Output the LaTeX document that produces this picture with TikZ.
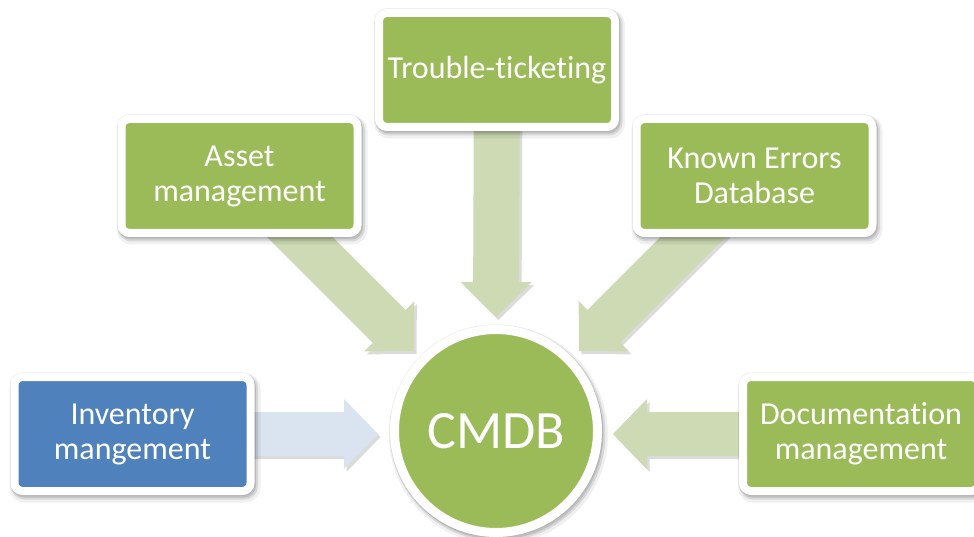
\documentclass[tikz,border=0pt]{standalone}
\usepackage{fontspec}
\setmainfont{Carlito}[Ligatures=NoCommon]
\usetikzlibrary{calc,shadows,backgrounds}
\definecolor{boxgreen}{HTML}{9BBB59}
\definecolor{boxblue}{HTML}{4F81BD}
\definecolor{arrgreen}{HTML}{CDDAB4}
\definecolor{arrblue}{HTML}{DAE3F0}
\tikzset{
  rimshadow/.style={
    preaction={draw=black, draw opacity=0.06, line width=#1+7pt,
      transform canvas={shift={(2.5pt,-4pt)}}},
    preaction={draw=black, draw opacity=0.10, line width=#1+3pt,
      transform canvas={shift={(2pt,-3pt)}}},
    preaction={draw=black, draw opacity=0.12, line width=#1,
      transform canvas={shift={(1.5pt,-2.5pt)}}},
    preaction={draw=black, draw opacity=0.07, line width=#1+1.5pt}},
  box/.style={draw=white, line width=8pt, rounded corners=8pt, text=white, align=center,
    minimum width=236pt, minimum height=114pt, inner sep=0pt,
    font=\fontsize{32}{35}\selectfont, rimshadow=8pt},
  greenbox/.style={box, fill=boxgreen},
  bluebox/.style={box, fill=boxblue},
  hub/.style={circle, fill=boxgreen, draw=white, line width=9pt, minimum size=203pt,
    inner sep=0pt, text=white, font=\fontsize{54}{60}\selectfont, rimshadow=9pt},
  arrshadow/.style={drop shadow={shadow xshift=2.5pt, shadow yshift=-3pt, fill=black, opacity=0.14}},
  greenarrow/.style={fill=arrgreen, arrshadow},
  bluearrow/.style={fill=arrblue, arrshadow},
}
% #1 style, #2 start, #3 tip, #4 shaft half width, #5 head half width, #6 head length
\newcommand\blockarrow[6]{%
  \coordinate (hbase) at ($(#3)!#6!(#2)$);
  \path[#1] (#3) -- ($(hbase)!#5!90:(#3)$) -- ($(hbase)!#4!90:(#3)$)
    -- ($(#2)!#4!90:(#3)$) -- ($(#2)!#4!-90:(#3)$)
    -- ($(hbase)!#4!-90:(#3)$) -- ($(hbase)!#5!-90:(#3)$) -- cycle;
}
\begin{document}
\begin{tikzpicture}[x=1pt,y=1pt]
\useasboundingbox (0,0) rectangle (974,536);
\node[greenbox] (trouble) at (497,466) {Trouble-ticketing};
\node[greenbox] (asset) at (239.5,360) {Asset\\management};
\node[greenbox] (known) at (754.5,360) {Known Errors\\Database};
\node[bluebox] (inv) at (132.5,102) {Inventory\\mangement};
\node[greenbox] (docs) at (861,102) {Documentation\\management};
\node[hub] (cmdb) at (496,105) {CMDB};
\coordinate (sA) at ($(asset.center)+(35.5,-36)$);
\coordinate (sK) at ($(known.center)+(-36.5,-36)$);
\coordinate (tT) at (496,219);
\coordinate (tA) at (414,185);
\coordinate (tK) at (579,185);
\coordinate (tI) at (378,102);
\coordinate (tD) at (613,102);
\begin{scope}[on background layer]
  \blockarrow{greenarrow}{trouble.center}{tT}{23pt}{35.5pt}{35pt}
  \blockarrow{greenarrow}{sA}{tA}{23pt}{35.5pt}{35pt}
  \blockarrow{greenarrow}{sK}{tK}{23pt}{35.5pt}{35pt}
  \blockarrow{bluearrow}{inv.center}{tI}{22pt}{35pt}{34pt}
  \blockarrow{greenarrow}{docs.center}{tD}{22pt}{35pt}{34pt}
\end{scope}
\end{tikzpicture}
\end{document}
